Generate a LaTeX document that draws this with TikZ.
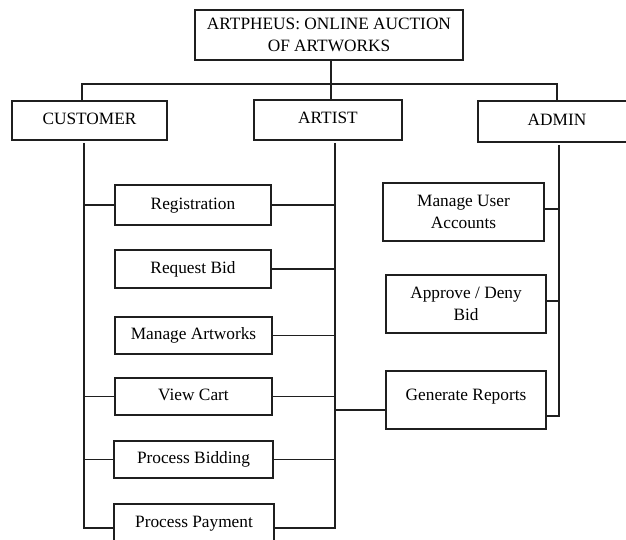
\documentclass[tikz,border=0pt]{standalone}
\usepackage{fontspec}
\setmainfont{Liberation Serif}
\begin{document}
\begin{tikzpicture}[x=1pt,y=-1pt,
  box/.style={draw=black!88, line width=1.1pt, rectangle, inner sep=0pt,
    outer sep=0pt, align=center, text=black,
    font=\fontsize{17.3}{22}\selectfont, text height=12pt, text depth=4pt},
  wire/.style={draw=black!88, line width=1.1pt}]
\useasboundingbox (0,0) rectangle (626,540);
\fill[white] (0,0) rectangle (626,540);

% root and the three roles
\node[box, minimum width=268, minimum height=50, text height=, text depth=] (title) at (329,35)
  {ARTPHEUS: ONLINE AUCTION\\OF ARTWORKS};
\node[box, minimum width=155, minimum height=39] (cust) at (89.5,120.5) {CUSTOMER};
\node[box, minimum width=148, minimum height=40] (art) at (328,120) {ARTIST};
\node[box, minimum width=158, minimum height=41] (adm) at (557,121.5) {ADMIN};

% shared functions of customer and artist
\node[box, minimum width=156, minimum height=40] (reg) at (193,205) {Registration};
\node[box, minimum width=156, minimum height=38] (req) at (193,269) {Request Bid};
\node[box, minimum width=157, minimum height=37] (man) at (193.5,335.5) {Manage Artworks};
\node[box, minimum width=157, minimum height=37] (cart) at (193.5,396.5) {View Cart};
\node[box, minimum width=159, minimum height=37] (bid) at (193.5,459.5) {Process Bidding};
\node[box, minimum width=160, minimum height=56, text depth=22pt] (pay) at (194,532) {Process Payment};

% admin functions
\node[box, minimum width=161, minimum height=58, text height=, text depth=] (acc) at (463.5,212) {Manage User\\Accounts};
\node[box, minimum width=160, minimum height=58, text height=, text depth=] (appr) at (466,304) {Approve / Deny\\Bid};
\node[box, minimum width=160, minimum height=58, text depth=12pt] (gen) at (466,400) {Generate Reports};

% trunk lines
\coordinate (bus) at (331,84);
\coordinate (cTop) at (84,143);
\coordinate (cBot) at (84,528);
\coordinate (aTop) at (335,143);
\coordinate (aBot) at (335,528);
\coordinate (dTop) at (559,145);

% top level
\draw[wire] (title.south -| bus) -- (bus |- art.north);
\draw[wire] ([xshift=-7.5pt]cust.north) |- (bus) -| (adm.north);

% customer branch
\draw[wire] (cTop) -- (cBot) -- ([yshift=4pt]pay.west);
\draw[wire] (reg.west) -- (reg.west -| cTop);
\draw[wire] (cart.west) -- (cart.west -| cTop);
\draw[wire] (bid.west) -- (bid.west -| cTop);

% artist branch
\draw[wire] (aTop) -- (aBot) -- ([yshift=4pt]pay.east);
\draw[wire] (reg.east) -- (reg.east -| aTop);
\draw[wire] (req.east) -- (req.east -| aTop);
\draw[wire] (man.east) -- (man.east -| aTop);
\draw[wire] (cart.east) -- (cart.east -| aTop);
\draw[wire] (bid.east) -- (bid.east -| aTop);
\draw[wire] ([yshift=-10pt]gen.west) -- ([yshift=-10pt]gen.west -| aTop);

% admin branch
\draw[wire] (dTop) |- ([yshift=-16pt]gen.east);
\draw[wire] ([yshift=3pt]acc.east) -- ([yshift=3pt]acc.east -| dTop);
\draw[wire] ([yshift=3pt]appr.east) -- ([yshift=3pt]appr.east -| dTop);
\end{tikzpicture}
\end{document}
